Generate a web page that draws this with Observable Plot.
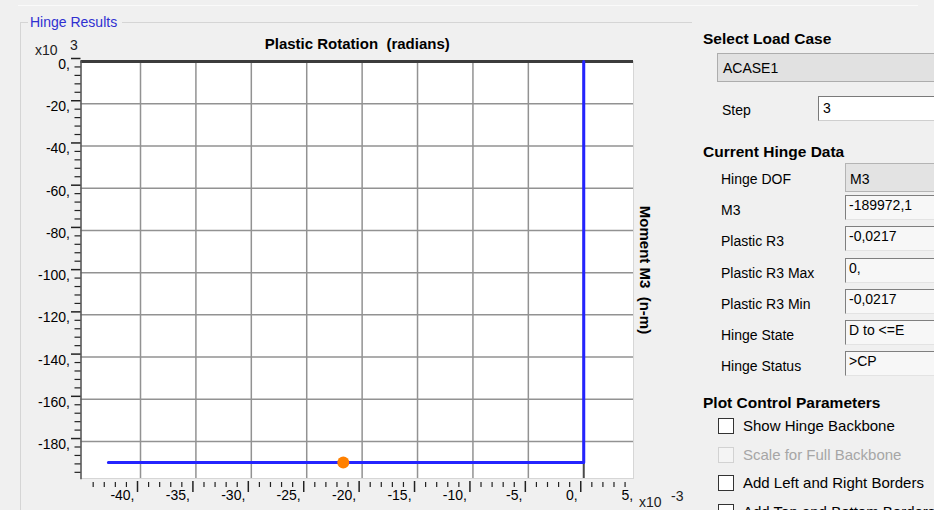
<!DOCTYPE html>
<html>
<head>
<meta charset="utf-8">
<script src="https://cdn.jsdelivr.net/npm/d3@7"></script>
<script src="https://cdn.jsdelivr.net/npm/@observablehq/plot@0.6"></script>
<style>
  html, body { margin: 0; padding: 0; background: #f0f0f0; }
  #app {
    position: relative; width: 934px; height: 510px; overflow: hidden;
    background: #f0f0f0; font-family: "Liberation Sans", Arial, sans-serif;
    font-size: 14px; color: #000;
  }
  #app .abs { position: absolute; white-space: pre; line-height: 1; }
  #chart { position: absolute; left: 0; top: 0; }
  .bold { font-weight: bold; font-size: 15.5px; }
  .box { position: absolute; box-sizing: border-box; }
  .field {
    position: absolute; box-sizing: border-box; height: 25px; width: 100px;
    background: #f7f7f7; border-top: 1px solid #7f7f7f; border-left: 1px solid #7f7f7f;
    border-bottom: 1px solid #e3e3e3; padding: 1px 0 0 3px; line-height: 16px;
  }
  .check {
    position: absolute; box-sizing: border-box; width: 16px; height: 16px;
    background: #fff; border: 1px solid #333;
  }
</style>
</head>
<body>
<div id="app">
  <!-- frame chrome of the result panel -->
  <div class="box" style="left:18px; top:5px; width:900px; height:1px; background:#fafafa;"></div>
  <div class="box" style="left:20px; top:22px; width:8px; height:1px; background:#d5d5d5;"></div>
  <div class="box" style="left:122px; top:22px; width:570px; height:1px; background:#d5d5d5;"></div>
  <div class="box" style="left:20px; top:22px; width:1px; height:490px; background:#d5d5d5;"></div>
  <div class="abs" style="left:30px; top:15px; color:#2f2fd0;">Hinge Results</div>

  <div id="chart"></div>

  <!-- scale multipliers -->
  <div class="abs" style="left:35px; top:43px; color:#222;">x10</div>
  <div class="abs" style="left:70px; top:38px; color:#222;">3</div>
  <div class="abs" style="left:639px; top:495px; color:#222;">x10</div>
  <div class="abs" style="left:671px; top:489px; color:#222;">-3</div>

  <!-- control panel -->
  <div class="abs bold" style="left:703px; top:31px;">Select Load Case</div>
  <div class="box" style="left:717px; top:53px; width:240px; height:29px; background:#e1e1e1; border:1px solid #adadad;"></div>
  <div class="abs" style="left:723px; top:61px;">ACASE1</div>
  <div class="abs" style="left:722px; top:103px;">Step</div>
  <div class="box" style="left:818px; top:96px; width:140px; height:25px; background:#fff; border-top:1px solid #7a7a7a; border-left:1px solid #7a7a7a; border-bottom:1px solid #cfcfcf;"></div>
  <div class="abs" style="left:823px; top:101px;">3</div>

  <div class="abs bold" style="left:703px; top:144px;">Current Hinge Data</div>
  <div id="hinge"></div>

  <div class="abs bold" style="left:703px; top:395px;">Plot Control Parameters</div>
  <div id="checks"></div>
</div>

<script>
// Hinge response in display units: rotation ×10^-3 rad, moment ×10^3 N·m
const curveRotation = [0, 0, -42.9];
const curveMoment = [0, -189.9721, -189.9721];

// current step state (Plastic R3, M3)
const stateRotation = [-21.7];
const stateMoment = [-189.9721];

// tick values
const xLabelTicks = [-40, -35, -30, -25, -20, -15, -10, -5, 0, 5];
const xMajorTicks = [-40, -35, -30, -25, -20, -15, -10, -5, 0];
const xGridTicks = [-40, -35, -30, -25, -20, -15, -10, -5];
const xMinorTicks = [-44, -43, -42, -41, -39, -38, -37, -36, -34, -33, -32, -31,
  -29, -28, -27, -26, -24, -23, -22, -21, -19, -18, -17, -16, -14, -13, -12, -11,
  -9, -8, -7, -6, -4, -3, -2, -1, 1, 2, 3, 4];
const yMajorTicks = [0, -20, -40, -60, -80, -100, -120, -140, -160, -180];
const yGridTicks = [-20, -40, -60, -80, -100, -120, -140, -160, -180];
const yMinorTicks = [-4, -8, -12, -16, -24, -28, -32, -36, -44, -48, -52, -56,
  -64, -68, -72, -76, -84, -88, -92, -96, -104, -108, -112, -116, -124, -128, -132, -136,
  -144, -148, -152, -156, -164, -168, -172, -176, -184, -188, -192, -196];

// hinge data fields
const fieldLabels = ["Hinge DOF", "M3", "Plastic R3", "Plastic R3 Max", "Plastic R3 Min", "Hinge State", "Hinge Status"];
const fieldValues = ["M3", "-189972,1", "-0,0217", "0,", "-0,0217", "D to <=E", ">CP"];

// plot control options
const checkLabels = ["Show Hinge Backbone", "Scale for Full Backbone", "Add Left and Right Borders", "Add Top and Bottom Borders"];
const checkEnabled = [true, false, true, true];

const curve = curveRotation.map((r, i) => ({rotation: r, moment: curveMoment[i]}));
const state = stateRotation.map((r, i) => ({rotation: r, moment: stateMoment[i]}));

const chart = Plot.plot({
  width: 660,
  height: 510,
  marginLeft: 80.5,
  marginRight: 27,
  marginTop: 61,
  marginBottom: 32,
  style: {
    background: "transparent",
    fontFamily: "'Liberation Sans', Arial, sans-serif",
    fontSize: "14px",
    color: "#000",
    overflow: "visible"
  },
  x: {domain: [-45.37, 4.49]},
  y: {domain: [-197.5, 0]},
  marks: [
    Plot.frame({fill: "white", stroke: "#d6d6d6"}),
    Plot.gridX({ticks: xGridTicks, stroke: "#929292", strokeOpacity: 1, strokeWidth: 1.5}),
    Plot.gridY({ticks: yGridTicks, stroke: "#929292", strokeOpacity: 1, strokeWidth: 1.5}),
    Plot.ruleX([0], {stroke: "#4a4a4a", strokeWidth: 2}),
    Plot.ruleY([0], {stroke: "#3c3c3c", strokeWidth: 3}),
    Plot.frame({anchor: "left", stroke: "#555", strokeWidth: 1.5}),

    // tick marks
    Plot.axisX({ticks: xMinorTicks, tickSize: 5, fill: "none", stroke: "#222", strokeWidth: 1.2, label: null, dx: -3, dy: 4}),
    Plot.axisX({ticks: xMajorTicks, tickSize: 11, fill: "none", stroke: "#222", strokeWidth: 1.5, label: null, dx: -3, dy: 3}),
    Plot.axisY({ticks: yMinorTicks, tickSize: 6, fill: "none", stroke: "#222", strokeWidth: 1.2, label: null, dy: -3}),
    Plot.axisY({ticks: yMajorTicks, tickSize: 9.5, fill: "none", stroke: "#222", strokeWidth: 1.5, label: null, dy: -3}),

    // tick labels
    Plot.axisY({ticks: yMajorTicks, tickSize: 0, tickPadding: 11, stroke: "none", label: null,
      tickFormat: d => `${d},`, fontSize: 14, dy: 3}),
    Plot.text(xLabelTicks, {x: d => d, text: d => `${d},`, frameAnchor: "bottom",
      textAnchor: "end", dx: -6, dy: 21, fontSize: 14}),

    // axis titles
    Plot.text(["Plastic Rotation\u00a0 (radians)"], {frameAnchor: "top", textAnchor: "middle",
      lineAnchor: "middle", dy: -17, fontWeight: "bold", fontSize: 15}),
    Plot.text(["Moment M3\u00a0 (n-m)"], {frameAnchor: "right", textAnchor: "middle",
      lineAnchor: "middle", dx: 11, rotate: 90, fontWeight: "bold", fontSize: 15}),

    // response curve and current state
    Plot.line(curve, {x: "rotation", y: "moment", stroke: "#2424ff", strokeWidth: 3, curve: "linear"}),
    Plot.dot(state, {x: "rotation", y: "moment", r: 6, fill: "#ff8000", stroke: "none"})
  ]
});
document.getElementById("chart").appendChild(chart);

// hinge data rows
const hinge = document.getElementById("hinge");
fieldLabels.forEach((label, i) => {
  const top = 163 + i * 31.2;
  const lab = document.createElement("div");
  lab.className = "abs";
  lab.style.left = "721px";
  lab.style.top = (top + 9) + "px";
  lab.textContent = label;
  hinge.appendChild(lab);
  const f = document.createElement("div");
  f.className = "field";
  f.style.left = "845px";
  if (i === 0) {
    f.style.top = top + "px";
    f.style.height = "29px";
    f.style.background = "#e3e3e3";
    f.style.border = "1px solid #b4b4b4";
    f.style.padding = "7px 0 0 4px";
  } else {
    f.style.top = (top + 1) + "px";
  }
  f.textContent = fieldValues[i];
  hinge.appendChild(f);
});

// checkbox rows
const checks = document.getElementById("checks");
checkLabels.forEach((label, i) => {
  const top = 418 + i * 28.5;
  const c = document.createElement("div");
  c.className = "check";
  c.style.left = "718px";
  c.style.top = top + "px";
  if (!checkEnabled[i]) { c.style.border = "1px solid #d2d2d2"; c.style.background = "#f4f4f4"; }
  checks.appendChild(c);
  const t = document.createElement("div");
  t.className = "abs";
  t.style.left = "743px";
  t.style.top = top + "px";
  t.style.fontSize = "15px";
  t.style.color = checkEnabled[i] ? "#000" : "#a6a6a6";
  t.textContent = label;
  checks.appendChild(t);
});
</script>
</body>
</html>
